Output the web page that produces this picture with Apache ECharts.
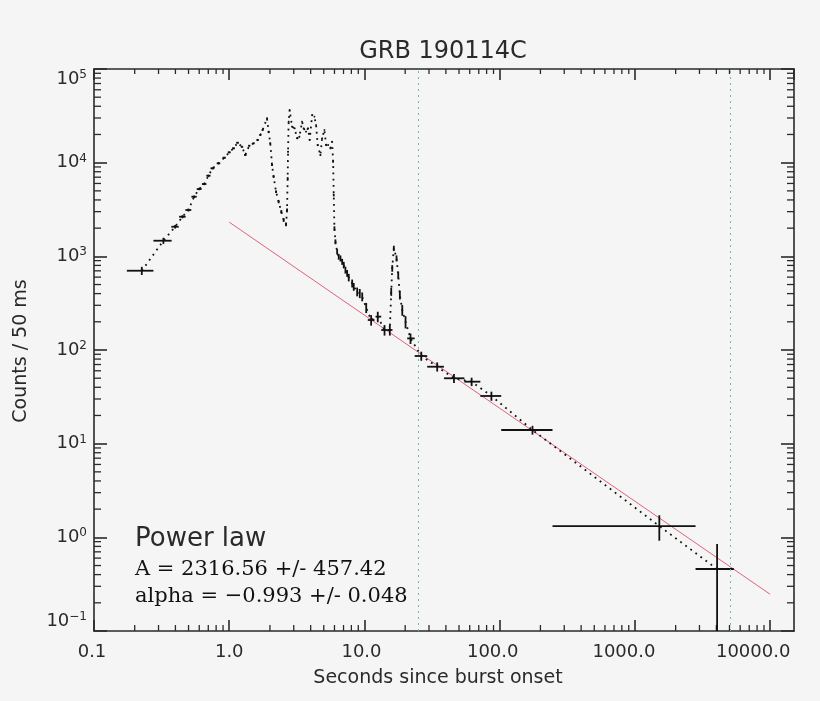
<!DOCTYPE html>
<html><head><meta charset="utf-8">
<script src="https://cdn.jsdelivr.net/npm/echarts@6/dist/echarts.min.js"></script>
<style>html,body{margin:0;padding:0;background:#f5f5f5}#c{width:820px;height:701px}</style>
</head><body><div id="c"></div>
<script>
// axis ranges and tick labels
const xRange = [0.1, 15000];
const yRange = [0.1, 100000];
const xTickLabels = ['0.1', '1.0', '10.0', '100.0', '1000.0', '10000.0'];

// 50 ms light-curve points (time s, counts/50ms, count error)
const denseT = [0.398,0.451,0.499,0.550,0.600,0.653,0.702,0.752,0.833,0.918,1.000,1.076,1.152,1.242,1.314,1.406,1.514,1.621,1.697,1.765,1.902,1.955,2.012,2.072,2.128,2.218,2.318,2.427,2.525,2.63,2.676,2.704,2.722,2.75,2.797,2.914,3.046,3.174,3.30,3.456,3.55,3.699,3.828,3.935,4.10,4.263,4.387,4.509,4.721,4.861,5.054,5.204,5.384,5.60,5.765,5.864,5.925,5.996,6.099,6.279,6.45,6.642,6.84,7.027,7.23,7.445,7.65,8.11,8.33,8.83,9.23,9.62,10.3,15.77,16.04,16.48,17.26,17.77,18.26,19.03,20.12];
const denseC = [2070,2648,3123,4330,5232,5916,7256,8703,9840,11290,12890,14230,16330,14800,12070,15170,16090,17450,19730,22310,29760,21400,16090,9440,7080,4898,3829,2995,2441,2197,3123,6807,13090,27360,36480,24200,23260,18200,18920,27360,23260,21400,23260,17450,32260,30950,25230,15430,12070,18200,22310,15430,15430,14230,16740,10240,4514,1991,1432,1120,991,952,876,808,714,659,595,515,474,419,403,371,283,419,745,1218,952,632,386,267,200];
const denseDc = [90,100,110,130,150,160,180,200,220,240,260,280,300,280,260,280,290,300,320,340,400,340,290,220,190,150,140,120,110,100,120,180,260,380,440,360,350,310,320,380,350,340,350,300,410,400,360,290,260,310,340,290,290,280,300,230,150,100,85,75,70,70,65,65,60,55,55,50,45,45,45,40,35,40,60,80,70,55,40,35,30];
const denseHalfBin = 0.025;

// rebinned points with explicit bins
const binT   = [0.2256, 0.326, 11.2, 12.54, 14.07, 15.4, 21.9, 26.3, 34.5, 45.9, 62.0, 86.8, 174.7, 1514, 4050];
const binC   = [702, 1468, 209, 227, 163.5, 163.5, 133, 86.3, 66.3, 49.9, 45.9, 32.3, 14.0, 1.32, 0.459];
const binTlo = [0.175, 0.275, 10.58, 12.07, 13.3, 14.7, 20.7, 23.5, 29.1, 38.7, 54.8, 71.9, 102.6, 245.7, 2806];
const binThi = [0.275, 0.375, 11.86, 13.3, 14.7, 16.1, 23.5, 29.1, 38.7, 54.8, 71.9, 102.6, 245.7, 2806, 5383];
const binDc  = [70, 110, 27, 29, 21, 21, 17, 9.6, 7.4, 5.6, 4.7, 3.6, 1.5, 0.4, 0.39];

// power-law fit endpoints and vertical markers
const fitT = [1, 10000];
const fitC = [2316.56, 0.2466];
const markerT = [25, 5100];

const lc = [];
denseT.forEach((t, i) => lc.push([t, denseC[i]]));
binT.forEach((t, i) => lc.push([t, binC[i]]));
lc.sort((a, b) => a[0] - b[0]);

const errData = [];
denseT.forEach((t, i) => errData.push([t, denseC[i], t - denseHalfBin, t + denseHalfBin, denseC[i] - denseDc[i], denseC[i] + denseDc[i]]));
binT.forEach((t, i) => errData.push([t, binC[i], binTlo[i], binThi[i], binC[i] - binDc[i], binC[i] + binDc[i]]));

const INK = '#2a2a2a';
const SANS = 'DejaVu Sans';
const SERIF = 'DejaVu Serif';

const chart = echarts.init(document.getElementById('c'));

function errItem(params, api) {
  const cs = params.coordSys;
  const bottom = cs.y + cs.height;
  const t = api.value(0), c = api.value(1);
  const p = api.coord([t, c]);
  const pl = api.coord([api.value(2), c]);
  const ph = api.coord([api.value(3), c]);
  const cl = api.value(4), ch = api.value(5);
  let yl = cl > 0 ? api.coord([t, cl])[1] : bottom;
  yl = Math.min(yl, bottom);
  const yh = api.coord([t, ch])[1];
  const st = { stroke: '#111', lineWidth: 1.8 };
  return { type: 'group', children: [
    { type: 'line', shape: { x1: pl[0], y1: p[1], x2: ph[0], y2: p[1] }, style: st },
    { type: 'line', shape: { x1: p[0], y1: yh, x2: p[0], y2: yl }, style: st }
  ]};
}

function minorTicks(params, api) {
  const cs = params.coordSys;
  const L = cs.x, R = cs.x + cs.width, T = cs.y, B = cs.y + cs.height;
  const st = { stroke: INK, lineWidth: 1.3 };
  const ch = [];
  for (let d = -1; d <= 4; d++) {
    for (let m = 2; m <= 9; m++) {
      const v = m * Math.pow(10, d);
      if (v > xRange[0] && v < xRange[1]) {
        const x = api.coord([v, yRange[0]])[0];
        ch.push({ type: 'line', shape: { x1: x, y1: B, x2: x, y2: B - 6 }, style: st });
        ch.push({ type: 'line', shape: { x1: x, y1: T, x2: x, y2: T + 5 }, style: st });
      }
      if (v > yRange[0] && v < yRange[1]) {
        const y = api.coord([xRange[0], v])[1];
        ch.push({ type: 'line', shape: { x1: L, y1: y, x2: L + 7, y2: y }, style: st });
        ch.push({ type: 'line', shape: { x1: R, y1: y, x2: R - 7, y2: y }, style: st });
      }
    }
  }
  return { type: 'group', children: ch };
}

const xPads = [4, 0, 6, 14, 22, 34];
const xRich = {};
xPads.forEach((p, i) => { xRich['x' + i] = { fontSize: 18, fontFamily: SANS, color: INK, padding: [0, p, 0, 0] }; });

const axisLine = { show: true, lineStyle: { color: INK, width: 1.6 } };

chart.setOption({
  backgroundColor: '#f5f5f5',
  animation: false,
  grid: { left: 94, right: 26, top: 69, bottom: 70, containLabel: false },
  xAxis: [
    { type: 'log', logBase: 10, min: xRange[0], max: xRange[1], position: 'bottom',
      axisLine, splitLine: { show: false },
      axisTick: { inside: true, length: 11, lineStyle: { color: INK, width: 1.6 } },
      axisLabel: { margin: 12, showMaxLabel: false, rich: xRich,
        formatter: v => { const e = Math.round(Math.log10(v)); if (e < -1 || e > 4 || Math.abs(v - Math.pow(10, e)) > 1e-6 * v) return ''; return '{x' + (e + 1) + '|' + xTickLabels[e + 1] + '}'; } } },
    { type: 'log', logBase: 10, min: xRange[0], max: xRange[1], position: 'top',
      axisLine, splitLine: { show: false },
      axisTick: { inside: true, length: 11, lineStyle: { color: INK, width: 1.6 } },
      axisLabel: { show: false } }
  ],
  yAxis: [
    { type: 'log', logBase: 10, min: yRange[0], max: yRange[1], position: 'left',
      axisLine, splitLine: { show: false },
      axisTick: { inside: true, length: 13, lineStyle: { color: INK, width: 1.6 } },
      axisLabel: { margin: 7, verticalAlignMaxLabel: 'top', verticalAlignMinLabel: 'bottom',
        formatter: v => { const e = Math.round(Math.log10(v)); return '{b|10}{s|' + (e < 0 ? '\u2212' + (-e) : e) + '}'; },
        rich: { b: { fontSize: 18, fontFamily: SANS, color: INK, lineHeight: 20 },
                s: { fontSize: 12, fontFamily: SANS, color: INK, verticalAlign: 'top', lineHeight: 12 } } } },
    { type: 'log', logBase: 10, min: yRange[0], max: yRange[1], position: 'right',
      axisLine, splitLine: { show: false },
      axisTick: { inside: true, length: 13, lineStyle: { color: INK, width: 1.6 } },
      axisLabel: { show: false } }
  ],
  series: [
    { type: 'custom', name: 'minor', renderItem: minorTicks, data: [[1, 1]], silent: true, z: 1, clip: false },
    { type: 'line', name: 'fit', data: fitT.map((t, i) => [t, fitC[i]]), symbol: 'none', silent: true, z: 2,
      lineStyle: { color: '#e0627a', width: 1 },
      markLine: { symbol: ['none', 'none'], silent: true, label: { show: false },
        lineStyle: { color: '#6cbfa6', type: [2, 4], width: 1 },
        data: markerT.map(t => ({ xAxis: t })) } },
    { type: 'line', name: 'lc', data: lc, symbol: 'none', showSymbol: false, silent: true, z: 3,
      lineStyle: { color: '#111', width: 1.8, type: [1.8, 4.5] } },
    { type: 'custom', name: 'err', renderItem: errItem, data: errData, silent: true, z: 4, clip: true,
      encode: { x: 0, y: 1 } }
  ],
  graphic: [
    { type: 'text', x: 443, y: 52, style: { text: 'GRB 190114C', fontSize: 24, fontFamily: SANS, fill: INK, align: 'center', verticalAlign: 'middle' } },
    { type: 'text', x: 438, y: 678, style: { text: 'Seconds since burst onset', fontSize: 19, fontFamily: SANS, fill: INK, align: 'center', verticalAlign: 'middle' } },
    { type: 'text', x: 21, y: 351, rotation: Math.PI / 2, style: { text: 'Counts / 50 ms', fontSize: 19, fontFamily: SANS, fill: INK, align: 'center', verticalAlign: 'middle' } },
    { type: 'text', x: 135, y: 539, style: { text: 'Power law', fontSize: 26, fontFamily: SANS, fill: INK, align: 'left', verticalAlign: 'middle' } },
    { type: 'text', x: 135, y: 570, style: { text: 'A = 2316.56 +/- 457.42', fontSize: 21, fontFamily: SERIF, fill: '#111', align: 'left', verticalAlign: 'middle' } },
    { type: 'text', x: 135, y: 597, style: { text: 'alpha = \u22120.993 +/- 0.048', fontSize: 21, fontFamily: SERIF, fill: '#111', align: 'left', verticalAlign: 'middle' } }
  ]
});
</script></body></html>
